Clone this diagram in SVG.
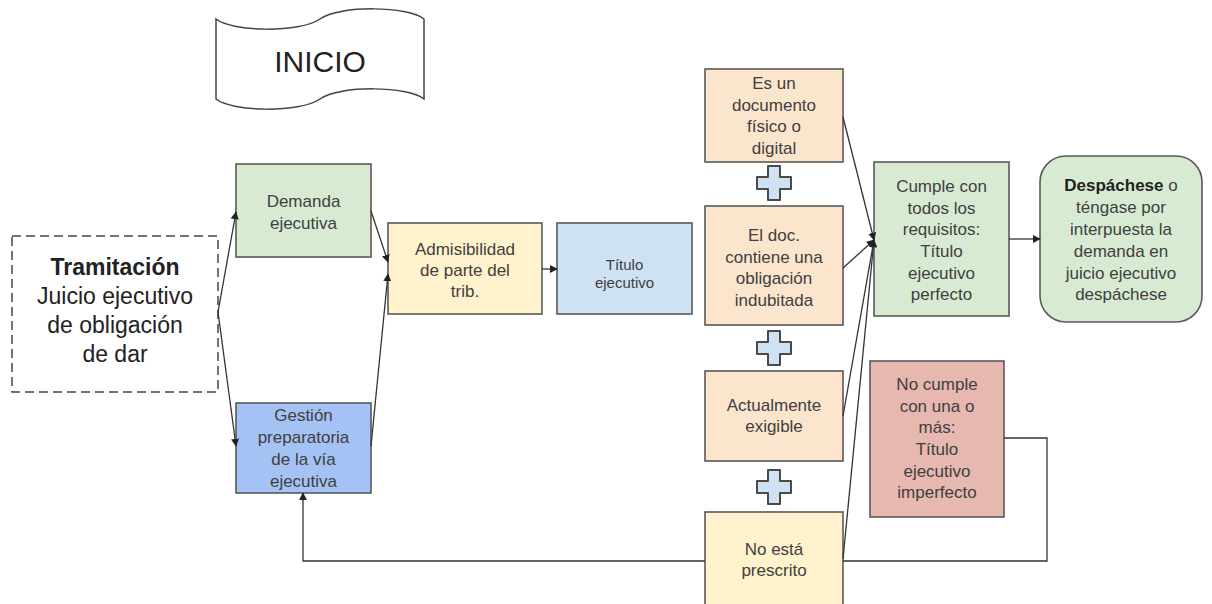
<svg xmlns="http://www.w3.org/2000/svg" width="1212" height="604" viewBox="0 0 1212 604">
<style>
.box{stroke:#595959;stroke-width:1.6}
.t{font-family:"Liberation Sans",Arial,sans-serif;font-size:17px;fill:#404040;text-anchor:middle}
.big{font-family:"Liberation Sans",Arial,sans-serif;font-size:23px;fill:#222;text-anchor:middle}
.c{fill:none;stroke:#333;stroke-width:1.3}
.plus{fill:#cfe2f3;stroke:#4a4a4a;stroke-width:2;stroke-linejoin:round}
</style>
<defs>
<marker id="ah" viewBox="0 0 10 10" refX="9" refY="5" markerWidth="8" markerHeight="8" markerUnits="userSpaceOnUse" orient="auto">
<path d="M0,0 L10,5 L0,10 Z" fill="#222"/>
</marker>
<path id="plusShape" d="M-6,-17 H6 V-6 H17 V6 H6 V17 H-6 V6 H-17 V-6 H-6 Z"/>
</defs>
<rect width="1212" height="604" fill="#fff"/>

<g id="inicio">
<path d="M216,19 C232,32 300,33 320,19 C340,5 408,6 424,19 L424,99 C408,86 340,85 320,99 C300,113 232,112 216,99 Z" fill="#fff" stroke="#444" stroke-width="1.5"/>
<text x="320" y="72" style="font-family:'Liberation Sans',Arial,sans-serif;font-size:30px;fill:#222;text-anchor:middle">INICIO</text>
</g>

<g id="tramitacion">
<rect x="12" y="236" width="206" height="156" fill="#fff" stroke="#444" stroke-width="1.5" stroke-dasharray="9,5"/>
<text class="big" x="115" y="275" font-weight="bold">Tramitación</text>
<text class="big" x="115" y="304">Juicio ejecutivo</text>
<text class="big" x="115" y="333">de obligación</text>
<text class="big" x="115" y="362">de dar</text>
</g>

<g id="demanda">
<rect class="box" x="236" y="164" width="135" height="93" fill="#d9ead3"/>
<text class="t" x="303.5" y="207">Demanda</text>
<text class="t" x="303.5" y="229">ejecutiva</text>
</g>

<g id="gestion">
<rect class="box" x="236" y="403" width="135" height="90" fill="#a4c2f4"/>
<text class="t" x="303.5" y="421">Gestión</text>
<text class="t" x="303.5" y="443">preparatoria</text>
<text class="t" x="303.5" y="465">de la vía</text>
<text class="t" x="303.5" y="487">ejecutiva</text>
</g>

<g id="admisibilidad">
<rect class="box" x="388" y="223" width="154" height="91" fill="#fff2cc"/>
<text class="t" x="465" y="255">Admisibilidad</text>
<text class="t" x="465" y="276">de parte del</text>
<text class="t" x="465" y="297">trib.</text>
</g>

<g id="titulo">
<rect class="box" x="557" y="223" width="135" height="91" fill="#cfe2f3"/>
<text class="t" x="624.5" y="270" style="font-size:15px">Título</text>
<text class="t" x="624.5" y="288" style="font-size:15px">ejecutivo</text>
</g>

<g id="documento">
<rect class="box" x="705" y="69" width="138" height="93" fill="#fce5cd"/>
<text class="t" x="774" y="89">Es un</text>
<text class="t" x="774" y="111">documento</text>
<text class="t" x="774" y="132">físico o</text>
<text class="t" x="774" y="154">digital</text>
</g>

<g id="obligacion">
<rect class="box" x="705" y="206" width="138" height="119" fill="#fce5cd"/>
<text class="t" x="774" y="241">El doc.</text>
<text class="t" x="774" y="263">contiene una</text>
<text class="t" x="774" y="284">obligación</text>
<text class="t" x="774" y="306">indubitada</text>
</g>

<g id="exigible">
<rect class="box" x="705" y="371" width="138" height="90" fill="#fce5cd"/>
<text class="t" x="774" y="411">Actualmente</text>
<text class="t" x="774" y="432">exigible</text>
</g>

<g id="prescrito">
<rect class="box" x="705" y="512" width="138" height="94" fill="#fff2cc"/>
<text class="t" x="774" y="555">No está</text>
<text class="t" x="774" y="576">prescrito</text>
</g>

<g id="plus1"><use href="#plusShape" class="plus" x="774" y="183"/></g>
<g id="plus2"><use href="#plusShape" class="plus" x="774" y="348"/></g>
<g id="plus3"><use href="#plusShape" class="plus" x="774" y="487"/></g>

<g id="cumple">
<rect class="box" x="874" y="162" width="135" height="154" fill="#d9ead3"/>
<text class="t" x="941.5" y="192">Cumple con</text>
<text class="t" x="941.5" y="214">todos los</text>
<text class="t" x="941.5" y="235">requisitos:</text>
<text class="t" x="941.5" y="257">Título</text>
<text class="t" x="941.5" y="279">ejecutivo</text>
<text class="t" x="941.5" y="300">perfecto</text>
</g>

<g id="despachese">
<rect class="box" x="1040" y="156" width="162" height="166" rx="26" ry="26" fill="#d9ead3"/>
<text class="t" x="1121" y="191"><tspan font-weight="bold" fill="#222">Despáchese</tspan> o</text>
<text class="t" x="1121" y="213">téngase por</text>
<text class="t" x="1121" y="235">interpuesta la</text>
<text class="t" x="1121" y="257">demanda en</text>
<text class="t" x="1121" y="279">juicio ejecutivo</text>
<text class="t" x="1121" y="300">despáchese</text>
</g>

<g id="nocumple">
<rect class="box" x="870" y="361" width="134" height="156" fill="#e6b8af"/>
<text class="t" x="937" y="390">No cumple</text>
<text class="t" x="937" y="412">con una o</text>
<text class="t" x="937" y="433">más:</text>
<text class="t" x="937" y="455">Título</text>
<text class="t" x="937" y="477">ejecutivo</text>
<text class="t" x="937" y="498">imperfecto</text>
</g>

<g id="connectors">
<path class="c" d="M218,312 L236,212" marker-end="url(#ah)"/>
<path class="c" d="M218,312 L236,446" marker-end="url(#ah)"/>
<path class="c" d="M371,211 L388,262" marker-end="url(#ah)"/>
<path class="c" d="M371,446 L388,274" marker-end="url(#ah)"/>
<path class="c" d="M542,269 L557,269" marker-end="url(#ah)"/>
<path class="c" d="M843,117 L874,240" marker-end="url(#ah)"/>
<path class="c" d="M843,268 L874,240" marker-end="url(#ah)"/>
<path class="c" d="M843,416 L874,240" marker-end="url(#ah)"/>
<path class="c" d="M843,559 L874,240" marker-end="url(#ah)"/>
<path class="c" d="M1009,239 L1040,239" marker-end="url(#ah)"/>
<path class="c" d="M705,561 H303 V493" marker-end="url(#ah)"/>
<path class="c" d="M843,561 H1047 V438 H1004"/>
</g>
</svg>
